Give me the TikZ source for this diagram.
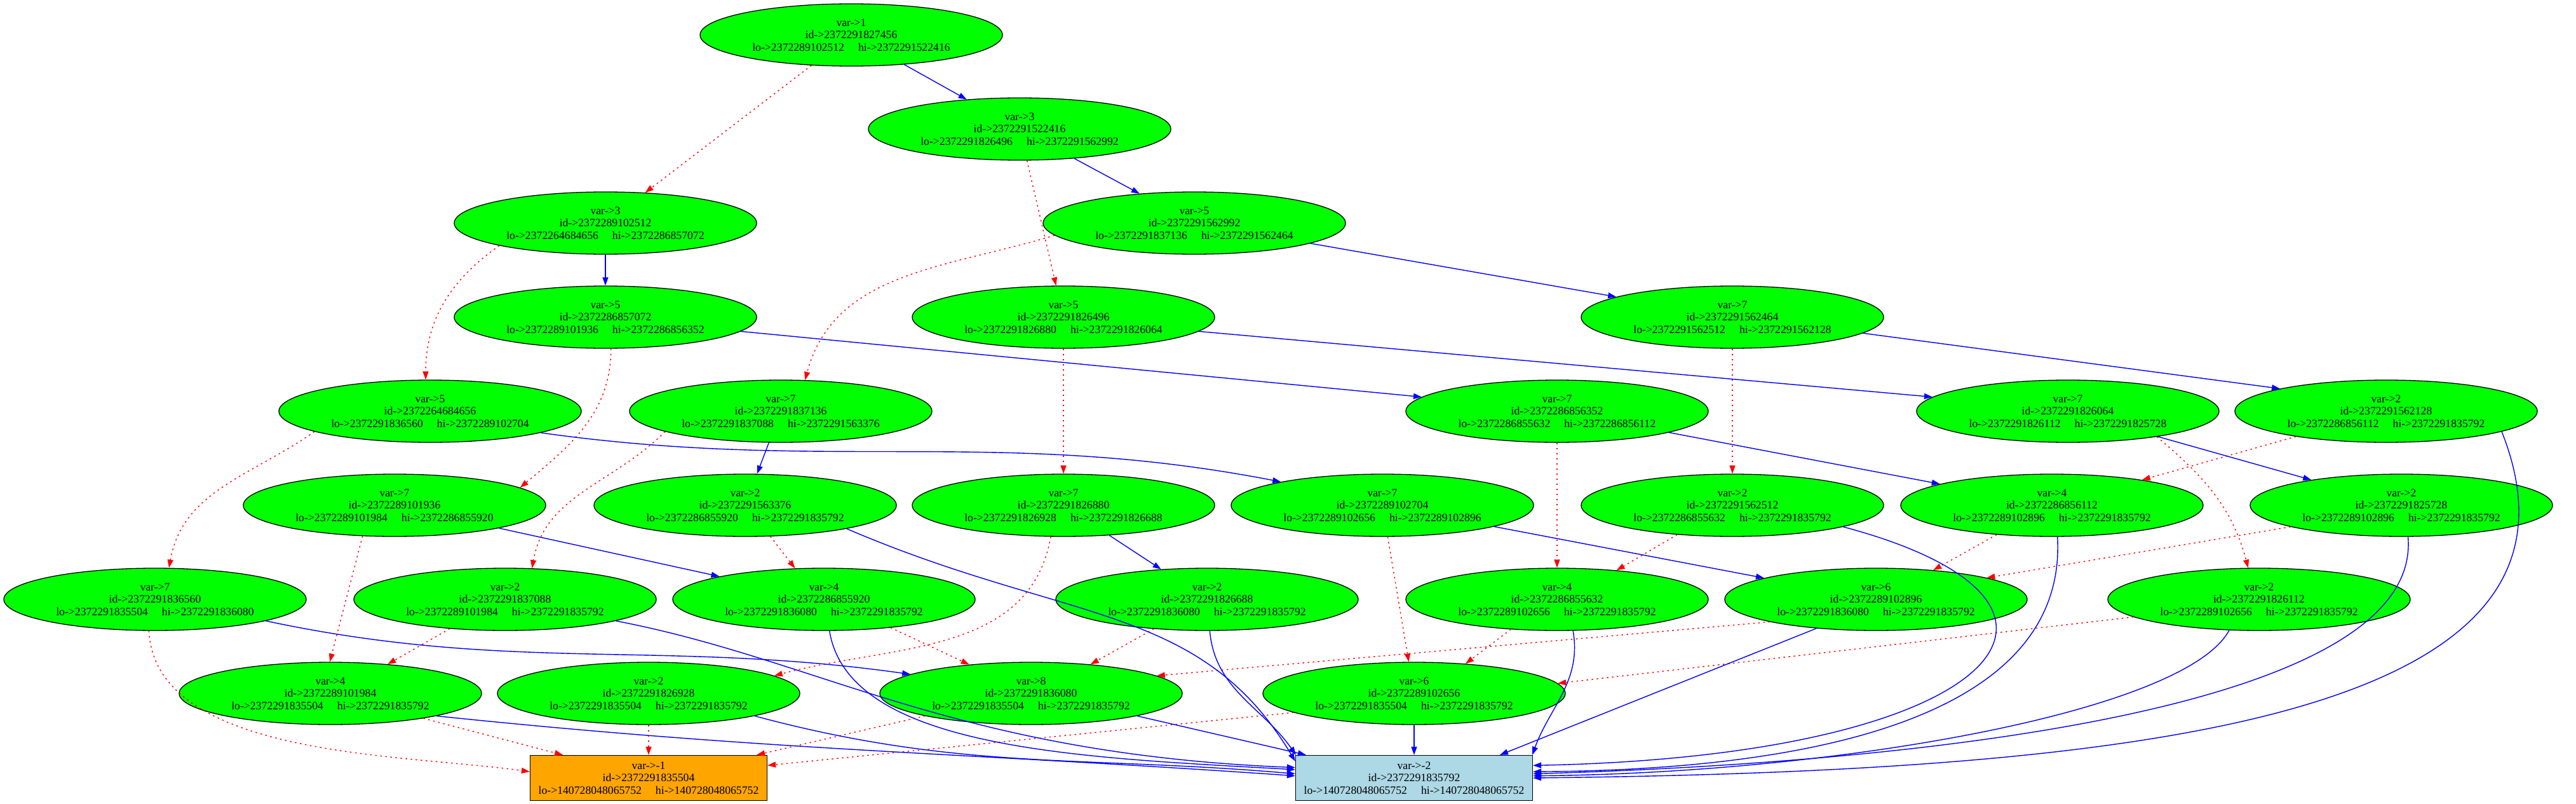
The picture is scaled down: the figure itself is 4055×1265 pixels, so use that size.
\documentclass[tikz,border=0pt]{standalone}
\usepackage{fontspec}
\setmainfont{Liberation Serif}
\usetikzlibrary{shapes.geometric,arrows.meta}
\definecolor{vgreen}{HTML}{00FF00}
\definecolor{termorange}{HTML}{FFA500}
\definecolor{termblue}{HTML}{ADD8E6}
\newcommand{\bddlab}[4]{var->#1\\id->#2\\lo->#3\hspace{22pt}hi->#4}
\tikzset{
  bdd/.style={ellipse, draw=black, line width=1.3pt, fill=vgreen,
    minimum width=476pt, minimum height=98pt, inner sep=0pt, align=center,
    font=\fontsize{17.7}{19.7}\selectfont},
  term/.style={rectangle, draw=black, line width=1.3pt,
    minimum width=373pt, minimum height=71pt, inner sep=0pt, align=center,
    font=\fontsize{17.7}{19.7}\selectfont},
  hi/.style={draw=blue, line width=1.4pt, -{Triangle[length=13pt,width=9pt]}},
  lo/.style={draw=red, line width=1.4pt, dash pattern=on 2.5pt off 5.5pt,
    -{Triangle[length=13pt,width=9pt]}},
}
\begin{document}
\begin{tikzpicture}[x=1pt,y=1pt]
\fill[white] (0,0) rectangle (4055,-1265);
\useasboundingbox (0,0) rectangle (4055,-1265);
% nodes
\node[bdd] (n827456) at (1340,-55) {\bddlab{1}{2372291827456}{2372289102512}{2372291522416}};
\node[bdd] (n522416) at (1605,-203) {\bddlab{3}{2372291522416}{2372291826496}{2372291562992}};
\node[bdd] (n102512) at (953,-351) {\bddlab{3}{2372289102512}{2372264684656}{2372286857072}};
\node[bdd] (n562992) at (1880,-351) {\bddlab{5}{2372291562992}{2372291837136}{2372291562464}};
\node[bdd] (n857072) at (953,-499) {\bddlab{5}{2372286857072}{2372289101936}{2372286856352}};
\node[bdd] (n826496) at (1674,-499) {\bddlab{5}{2372291826496}{2372291826880}{2372291826064}};
\node[bdd] (n562464) at (2727,-499) {\bddlab{7}{2372291562464}{2372291562512}{2372291562128}};
\node[bdd] (n684656) at (677,-647) {\bddlab{5}{2372264684656}{2372291836560}{2372289102704}};
\node[bdd] (n837136) at (1229,-647) {\bddlab{7}{2372291837136}{2372291837088}{2372291563376}};
\node[bdd] (n856352) at (2451,-647) {\bddlab{7}{2372286856352}{2372286855632}{2372286856112}};
\node[bdd] (n826064) at (3255,-647) {\bddlab{7}{2372291826064}{2372291826112}{2372291825728}};
\node[bdd] (n562128) at (3756,-647) {\bddlab{2}{2372291562128}{2372286856112}{2372291835792}};
\node[bdd] (n101936) at (621,-795) {\bddlab{7}{2372289101936}{2372289101984}{2372286855920}};
\node[bdd] (n563376) at (1173,-795) {\bddlab{2}{2372291563376}{2372286855920}{2372291835792}};
\node[bdd] (n826880) at (1674,-795) {\bddlab{7}{2372291826880}{2372291826928}{2372291826688}};
\node[bdd] (n102704) at (2176,-795) {\bddlab{7}{2372289102704}{2372289102656}{2372289102896}};
\node[bdd] (n562512) at (2727,-795) {\bddlab{2}{2372291562512}{2372286855632}{2372291835792}};
\node[bdd] (n856112) at (3230,-795) {\bddlab{4}{2372286856112}{2372289102896}{2372291835792}};
\node[bdd] (n825728) at (3780,-795) {\bddlab{2}{2372291825728}{2372289102896}{2372291835792}};
\node[bdd] (n836560) at (244,-943) {\bddlab{7}{2372291836560}{2372291835504}{2372291836080}};
\node[bdd] (n837088) at (795,-943) {\bddlab{2}{2372291837088}{2372289101984}{2372291835792}};
\node[bdd] (n855920) at (1297,-943) {\bddlab{4}{2372286855920}{2372291836080}{2372291835792}};
\node[bdd] (n826688) at (1900,-943) {\bddlab{2}{2372291826688}{2372291836080}{2372291835792}};
\node[bdd] (n855632) at (2451,-943) {\bddlab{4}{2372286855632}{2372289102656}{2372291835792}};
\node[bdd] (n102896) at (2953,-943) {\bddlab{6}{2372289102896}{2372291836080}{2372291835792}};
\node[bdd] (n826112) at (3556,-943) {\bddlab{2}{2372291826112}{2372289102656}{2372291835792}};
\node[bdd] (n101984) at (520,-1091) {\bddlab{4}{2372289101984}{2372291835504}{2372291835792}};
\node[bdd] (n826928) at (1021,-1091) {\bddlab{2}{2372291826928}{2372291835504}{2372291835792}};
\node[bdd] (n836080) at (1623,-1091) {\bddlab{8}{2372291836080}{2372291835504}{2372291835792}};
\node[bdd] (n102656) at (2226,-1091) {\bddlab{6}{2372289102656}{2372291835504}{2372291835792}};
\node[term, fill=termorange] (n835504) at (1021,-1224) {\bddlab{-1}{2372291835504}{140728048065752}{140728048065752}};
\node[term, fill=termblue] (n835792) at (2226,-1224) {\bddlab{-2}{2372291835792}{140728048065752}{140728048065752}};
% lo edges
\draw[lo] (n827456) -- (n102512);
\draw[lo] (n522416) -- (n826496);
\draw[lo] (n102512.192) to[out=215,in=90] (n684656.98);
\draw[lo] (n562992.185) to[out=197,in=75] (n837136.52);
\draw[lo] (n857072.280) to[out=270,in=40] (n101936.8);
\draw[lo] (n826496) -- (n826880);
\draw[lo] (n562464) -- (n562512);
\draw[lo] (n684656.190) to[out=215,in=80] (n836560.66);
\draw[lo] (n837136.190) to[out=225,in=80] (n837088.49);
\draw[lo] (n856352) -- (n855632);
\draw[lo] (n826064.344) to[out=-40,in=105] (n826112.109);
\draw[lo] (n562128) -- (n856112);
\draw[lo] (n101936.224) -- (n101984.91);
\draw[lo] (n563376.-51) -- (n855920.133);
\draw[lo] (n826880.248) to[out=260,in=15] (n826928.8);
\draw[lo] (n102704) -- (n102656);
\draw[lo] (n562512.208) -- (n855632.26);
\draw[lo] (n856112.208) -- (n102896.27);
\draw[lo] (n825728.191) -- (n102896.11);
\draw[lo] (n836560.259) .. controls +(10,-200) and +(-198,28) .. (n835504.177);
\draw[lo] (n837088.208) -- (n101984.27);
\draw[lo] (n855920.-23) -- (n836080.155);
\draw[lo] (n826688.209) -- (n836080.26);
\draw[lo] (n855632.213) -- (n102656.30);
\draw[lo] (n102896.192) -- (n836080.8);
\draw[lo] (n826112.188) -- (n102656.4);
\draw[lo] (n101984.-15) -- (n835504.165);
\draw[lo] (n826928) -- (n835504);
\draw[lo] (n836080.192) -- (n835504.12);
\draw[lo] (n102656.189) -- (n835504.6);
% hi edges
\draw[hi] (n827456) -- (n522416);
\draw[hi] (n522416) -- (n562992);
\draw[hi] (n102512) -- (n857072);
\draw[hi] (n562992) -- (n562464);
\draw[hi] (n857072.-6) -- (n856352.174);
\draw[hi] (n826496.-6) -- (n826064.174);
\draw[hi] (n562464.-7) -- (n562128.168);
\draw[hi] (n684656.-11) .. controls +(448,-63) and +(-445,86) .. (n102704.167);
\draw[hi] (n837136) -- (n563376);
\draw[hi] (n856352) -- (n856112);
\draw[hi] (n826064) -- (n825728);
\draw[hi] (n562128.-10) .. controls +(175,-440) and +(1000,11) .. (n835792.0);
\draw[hi] (n101936) -- (n855920);
\draw[hi] (n563376.-13) .. controls +(350,-150) and +(-150,250) .. (n835792.172);
\draw[hi] (n826880) -- (n826688);
\draw[hi] (n102704) -- (n102896);
\draw[hi] (n562512.-11) .. controls +(455,-121) and +(737,15) .. (n835792.6);
\draw[hi] (n856112.-80) .. controls +(16,-285) and +(437,3) .. (n835792.3);
\draw[hi] (n825728.-78) .. controls +(24,-275) and +(587,17) .. (n835792.2);
\draw[hi] (n836560.-11) .. controls +(385,-82) and +(-390,55) .. (n836080.171);
\draw[hi] (n837088.-11) .. controls +(323,-62) and +(-538,22) .. (n835792.175);
\draw[hi] (n855920.-80) .. controls +(30,-187) and +(-338,19) .. (n835792.176);
\draw[hi] (n826688.-85) to[out=-85,in=125] (n835792.169);
\draw[hi] (n855632.-63) to[out=-80,in=70] (n835792.11);
\draw[hi] (n102896.206) -- (n835792.15);
\draw[hi] (n826112.226) .. controls +(-68,-127) and +(487,5) .. (n835792.1);
\draw[hi] (n101984.-12) .. controls +(528,-55) and +(-530,37) .. (n835792.179);
\draw[hi] (n826928.-12) .. controls +(324,-87) and +(-334,29) .. (n835792.178);
\draw[hi] (n836080.-12) -- (n835792.168);
\draw[hi] (n102656) -- (n835792);
\end{tikzpicture}
\end{document}
